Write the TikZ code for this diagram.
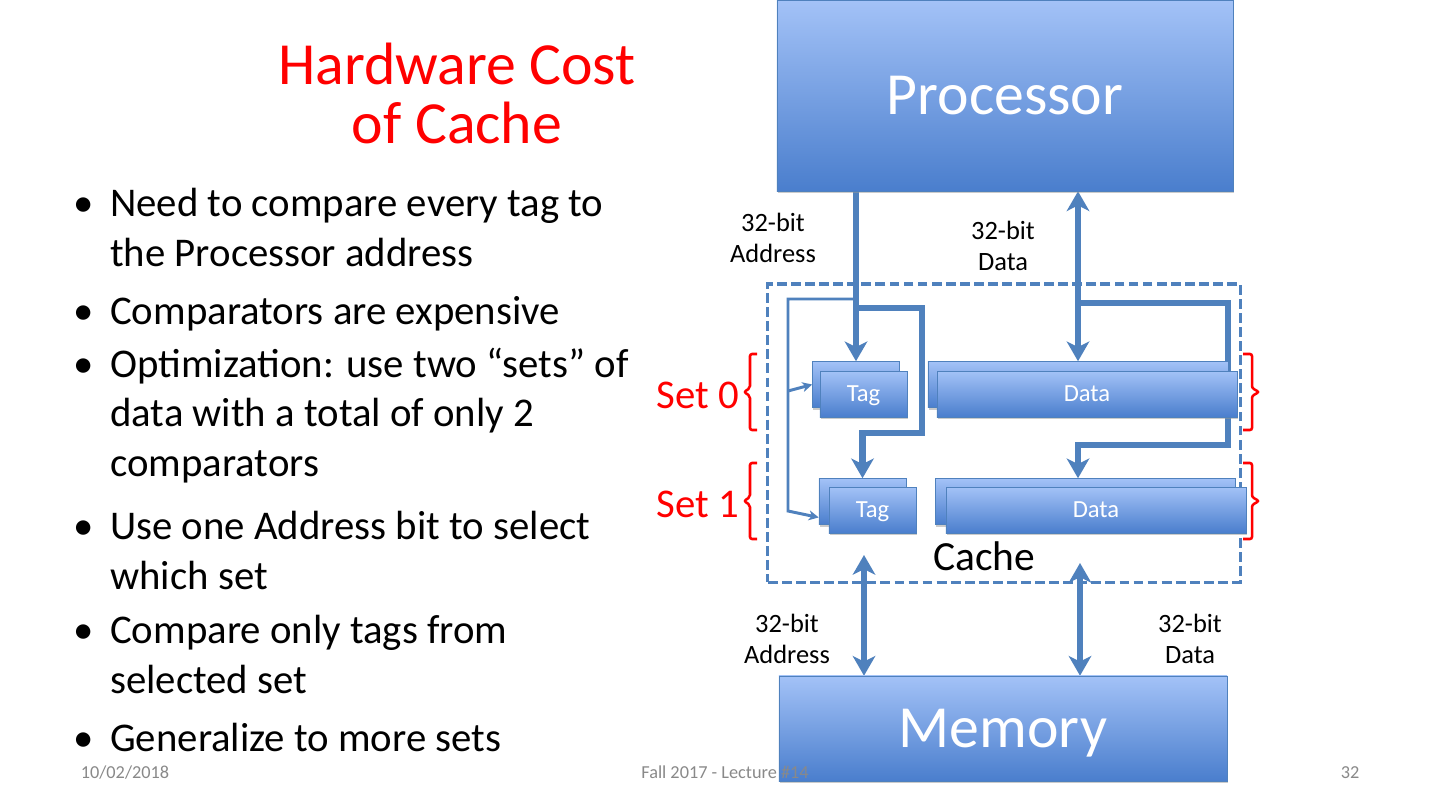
\documentclass[tikz,border=0pt]{standalone}
\usepackage{fontspec}
\setmainfont{Carlito}
\usetikzlibrary{arrows.meta,shadows,backgrounds}
\definecolor{busblue}{RGB}{79,129,189}
\definecolor{boxtop}{RGB}{163,194,247}
\definecolor{boxbot}{RGB}{74,126,205}
\definecolor{footgray}{RGB}{137,137,137}
\newcommand{\itm}{\llap{\textbullet\hspace{12pt}}}

\begin{document}
\begin{tikzpicture}[x=0.025cm, y=-0.025cm,
        blk/.style={draw=busblue, top color=boxtop, bottom color=boxbot, text=white, inner sep=0pt, text depth=0pt,
            drop shadow={shadow xshift=0.5pt, shadow yshift=-1.5pt, fill=black!40}},
        tagbox/.style={blk, minimum width=2.175cm, minimum height=1.15cm, font=\fontsize{17.5}{20}\selectfont},
        databox/.style={blk, minimum width=7.5cm, minimum height=1.15cm, font=\fontsize{17.5}{20}\selectfont},
        bus/.style={busblue, line width=4.3pt, -{Stealth[length=14pt, width=16pt, inset=4pt]}},
        dbus/.style={bus, {Stealth[length=14pt, width=16pt, inset=4pt]}-{Stealth[length=14pt, width=16pt, inset=4pt]}},
        selbit/.style={busblue, line width=2.1pt, -{Stealth[length=7pt, width=7pt, inset=2pt]}},
        brace/.style={red, line width=1.8pt, rounded corners=1.5pt},
        bullet/.style={anchor=base west, align=left, inner sep=0pt, font=\fontsize{29}{34.9}\selectfont},
        buslbl/.style={anchor=base, align=center, inner sep=0pt, font=\fontsize{18.8}{22}\selectfont},
        foot/.style={anchor=base, inner sep=0pt, text=footgray, font=\fontsize{13}{15}\selectfont}]
        \useasboundingbox (0,0) rectangle (1440,810);
        \node[anchor=base, align=center, inner sep=0pt, text=red, font=\fontsize{42.5}{41.3}\selectfont] (title) at (457,143) {Hardware Cost\\of Cache};
        \node[bullet] (b1) at (110,266) {\itm Need to compare every tag to\\the Processor address};
        \node[bullet] (b2) at (110,324) {\itm Comparators are expensive};
        \node[bullet] (b3) at (110,476) {\itm Optimization: use two “sets” of\\data with a total of only 2\\comparators};
        \node[bullet] (b4) at (110,589) {\itm Use one Address bit to select\\which set};
        \node[bullet] (b5) at (110,693) {\itm Compare only tags from\\selected set};
        \node[bullet] (b6) at (110,751) {\itm Generalize to more sets};

        \node[blk, minimum width=11.4cm, minimum height=4.775cm, font=\fontsize{42.5}{50}\selectfont] (proc) at (1005,95.5) {Processor};
        \node[blk, minimum width=11.2cm, minimum height=2.625cm, font=\fontsize{42.5}{50}\selectfont] (mem) at (1003,728.5) {Memory};
        \node[tagbox] (tag0b) at (856,384.5) {};
        \node[tagbox] (tag0) at (863.5,394) {Tag};
        \node[databox] (data0b) at (1078,384.5) {};
        \node[databox] (data0) at (1087,394) {Data};
        \node[tagbox] (tag1b) at (862.5,501.5) {};
        \node[tagbox] (tag1) at (872.5,510) {Tag};
        \node[databox] (data1b) at (1085.5,501.5) {};
        \node[databox] (data1) at (1096,510) {Data};

        \begin{scope}[on background layer]
        \fill[white] (0,0) rectangle (1440,810);
        \node[draw=busblue, line width=2.2pt, dash pattern=on 7pt off 3pt, minimum width=11.8cm, minimum height=7.45cm] (cache) at (1004,433) {};
        \coordinate (pa) at (proc.south -| tag0b.north);
        \coordinate (pd) at (proc.south -| data0b.north);
        \coordinate (ar) at (922,308);
        \coordinate (ab) at (922,433);
        \coordinate (st) at (788,299);
        \coordinate (sm) at (788,391);
        \coordinate (sb) at (788,511);
        \coordinate (dr) at (1228,303);
        \coordinate (db) at (1228,445);
        \coordinate (ma) at (864,555);
        \coordinate (md) at (1080,563);
        \draw[bus] (pa) -- (tag0b.north);
        \draw[bus] (pa |- ar) -- (ar) -- (ab) -- (ab -| tag1b.north) -- (tag1b.north);
        \draw[selbit] (pa |- st) -- (st) -- (sb) -- (tag1b.200);
        \draw[selbit] (sm) -- (tag0b.west);
        \draw[dbus] (pd) -- (data0b.north);
        \draw[bus] (pd |- dr) -- (dr) -- (db) -- (db -| pd) -- (pd |- data1b.north);
        \draw[dbus] (ma) -- (ma |- mem.north);
        \draw[dbus] (md) -- (md |- mem.north);
        \end{scope}

        \node[anchor=base, inner sep=0pt, font=\fontsize{29.5}{34}\selectfont] (cachelbl) at (984,570) {Cache};
        \node[buslbl] (pal) at (773,262) {32-bit\\Address};
        \node[buslbl] (pdl) at (1003,270) {32-bit\\Data};
        \node[buslbl] (mal) at (787,663) {32-bit\\Address};
        \node[buslbl] (mdl) at (1190,663) {32-bit\\Data};
        \node[anchor=base east, inner sep=0pt, text=red, font=\fontsize{29}{34}\selectfont] (set0) at (739,408) {Set 0};
        \node[anchor=base east, inner sep=0pt, text=red, font=\fontsize{29}{34}\selectfont] (set1) at (739,517) {Set 1};
        \foreach \y in {392,501} {
            \draw[brace] (757,\y-38) -- ++(-7,0) -- ++(0,34) -- ++(-6,4) -- ++(6,4) -- ++(0,34) -- ++(7,0);
            \draw[brace] (1243,\y-38) -- ++(9,0) -- ++(0,34) -- ++(7,4) -- ++(-7,4) -- ++(0,34) -- ++(-9,0);
        }
        \node[foot] (date) at (125,778) {10/02/2018};
        \node[foot] (course) at (725,778) {Fall 2017 - Lecture \#14};
        \node[foot] (page) at (1350,778) {32};

    \end{tikzpicture}
\end{document}
